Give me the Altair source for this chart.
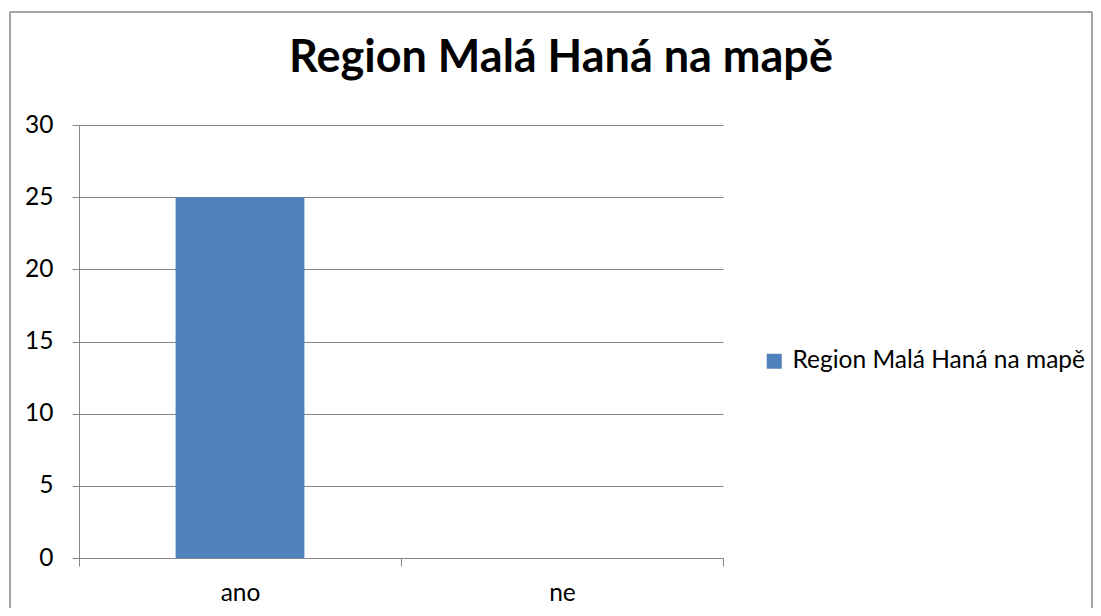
import altair as alt
import pandas as pd

# ---- data ----
categories = ["ano", "ne"]
values = [25, 0]
series_name = "Region Malá Haná na mapě"
chart_title = "Region Malá Haná na mapě"
y_ticks = [0, 5, 10, 15, 20, 25, 30]

df = pd.DataFrame({
    "kategorie": categories,
    "hodnota": values,
    "serie": [series_name] * len(categories),
})

FONT = "Lato"
GRAY = "#868686"
BAR = "#4F81BD"
LBL = 24.5

bars = alt.Chart(df).mark_bar(width=alt.RelativeBandSize(0.4)).encode(
    x=alt.X(
        "kategorie:N",
        sort=categories,
        scale=alt.Scale(paddingInner=0, paddingOuter=0),
        axis=alt.Axis(
            title=None, labelAngle=0, tickBand="extent", tickSize=8,
            labelPadding=15, grid=False, domainColor=GRAY, tickColor=GRAY,
            labelFontSize=LBL, labelColor="black", labelFont=FONT,
        ),
    ),
    y=alt.Y(
        "hodnota:Q",
        scale=alt.Scale(domain=[0, 30]),
        axis=alt.Axis(
            title=None, values=y_ticks, tickSize=7, labelPadding=19,
            grid=True, gridColor=GRAY, domainColor=GRAY, tickColor=GRAY,
            labelFontSize=LBL, labelColor="black", labelFont=FONT,
        ),
    ),
    color=alt.Color(
        "serie:N",
        scale=alt.Scale(domain=[series_name], range=[BAR]),
        legend=alt.Legend(
            title=None, orient="none", legendX=683, legendY=224,
            symbolType="square", symbolSize=225, symbolStrokeWidth=0,
            labelFontSize=LBL, labelFont=FONT, labelColor="black",
            labelOffset=6, padding=0, labelLimit=0,
        ),
    ),
)

title = alt.Chart(alt.Data(values=[{"k": 1}])).mark_text(
    text=chart_title, font=FONT, fontSize=45, fontWeight="bold", color="black",
    align="center", baseline="alphabetic",
).encode(x=alt.value(482), y=alt.value(-53))

frame = alt.Data(values=[{"k": 1}])
left = alt.Chart(frame).mark_rule(color=GRAY, strokeWidth=1.5).encode(
    x=alt.value(-69), y=alt.value(-113), y2=alt.value(500))
top = alt.Chart(frame).mark_rule(color=GRAY, strokeWidth=1.5).encode(
    x=alt.value(-69), x2=alt.value(1013), y=alt.value(-113))
right = alt.Chart(frame).mark_rule(color=GRAY, strokeWidth=1.5).encode(
    x=alt.value(1013), y=alt.value(-113), y2=alt.value(500))

chart = alt.layer(bars, title, left, top, right).properties(
    width=644,
    height=433,
    autosize=alt.AutoSizeParams(type="none"),
    padding={"left": 71, "top": 117, "right": 370, "bottom": 50},
).configure_view(stroke=None)

chart.save("out.html", embed_options={"renderer": "svg", "actions": False})
